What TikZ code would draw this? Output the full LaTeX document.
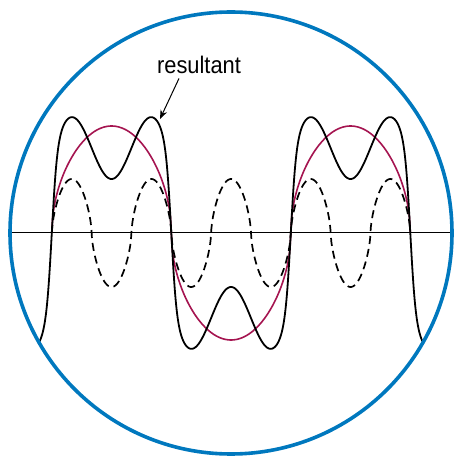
\documentclass[tikz,border=0pt]{standalone}
\usepackage{fontspec}
\setmainfont{Liberation Sans}
\usetikzlibrary{arrows.meta}
\definecolor{ringblue}{RGB}{0,120,190}
\definecolor{fundred}{RGB}{165,20,80}
\tikzset{
  declare function={
    ga(\t)=abs(sin(\t))+0.0002;
    gr(\t)=sin(\t)/sqrt(ga(\t));
    gd(\t)=sin(\t)/(sqrt(sqrt(ga(\t)))*sqrt(sqrt(sqrt(ga(\t)))));
    gs(\t)=tanh(7*sin(\t))/tanh(7);
    ph(\x)=(\x-51.8)/119.5*180;
  },
  ring/.style={draw=ringblue,line width=3.6pt},
  axisline/.style={draw=black,line width=1pt},
  fund/.style={draw=fundred,line width=1.6pt},
  third/.style={draw=black,line width=1.7pt,dash pattern=on 8pt off 5pt},
  result/.style={draw=black,line width=1.8pt},
  lbl/.style={font=\fontsize{24}{28}\selectfont,inner sep=0pt,xscale=0.91,anchor=base},
}
\begin{document}
\begin{tikzpicture}[x=1pt,y=1pt]
\useasboundingbox (0,0) rectangle (455,456);
\coordinate (c) at (231,223);
% axis
\coordinate (axl) at (10,223);
\coordinate (axr) at (452,223);
\draw[axisline] (axl) -- (axr);
% fundamental
\draw[fund] plot[domain=51.8:410.3,samples=400,variable=\x]
  ({\x},{223+107*gr(ph(\x))});
% third harmonic
\draw[third] plot[domain=51.8:410.3,samples=500,variable=\x]
  ({\x},{223+54*gd(3*ph(\x))});
% resultant (clipped to circle)
\begin{scope}
\clip (c) circle (219.5);
\draw[result] plot[domain=30:434,samples=800,variable=\x]
  ({\x},{223+85*gs(ph(\x))+31*sin(3*ph(\x))});
\end{scope}
% ring
\draw[ring] (c) circle (221);
% label
\node[lbl] (res) at (199,382) {resultant};
\coordinate (tip) at (160,337);
\draw[line width=1pt,-{Stealth[length=9pt,width=7pt]}] ([xshift=-20pt,yshift=-4pt]res.south) -- (tip);
\end{tikzpicture}
\end{document}
